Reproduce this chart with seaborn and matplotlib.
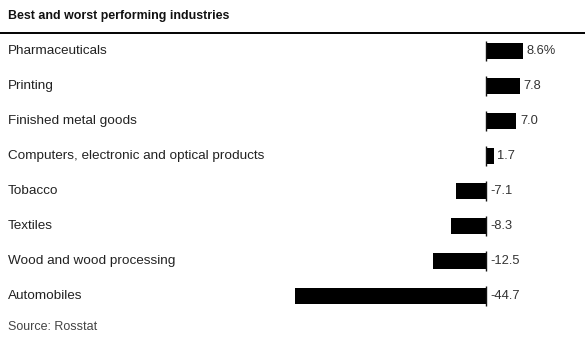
import matplotlib
matplotlib.use("Agg")
import matplotlib.pyplot as plt
import seaborn as sns
import pandas as pd

industries = ["Pharmaceuticals", "Printing", "Finished metal goods",
              "Computers, electronic and optical products", "Tobacco",
              "Textiles", "Wood and wood processing", "Automobiles"]
values = [8.6, 7.8, 7.0, 1.7, -7.1, -8.3, -12.5, -44.7]
value_labels = ["8.6%", "7.8", "7.0", "1.7", "-7.1", "-8.3", "-12.5", "-44.7"]
title = "Best and worst performing industries"
source = "Source: Rosstat"

sns.set_theme(style="white")
plt.rcParams['font.family'] = ['Liberation Sans', 'DejaVu Sans']

W, H = 585, 348
fig = plt.figure(figsize=(W / 100, H / 100), dpi=100)
top_px, bot_px = 33.5, 313.5
ax = fig.add_axes([0, (H - bot_px) / H, 1, (bot_px - top_px) / H])

df = pd.DataFrame({"industry": industries, "value": values})
sns.barplot(data=df, y="industry", x="value", order=industries, orient="h",
            color="black", width=0.46, saturation=1, ax=ax, edgecolor="none")

zero_px = 486.5
ppu = 4.28
ax.set_xlim(-zero_px / ppu, (W - zero_px) / ppu)
ax.set_ylim(len(industries) - 0.5, -0.5)
ax.axis("off")

# zero line segments
for i in range(len(industries)):
    ax.plot([0, 0], [i - 0.29, i + 0.29], color="#111111", lw=1.0, solid_capstyle="butt")

trans = matplotlib.transforms.blended_transform_factory(fig.transFigure, ax.transData)
for i, (name, v, lab) in enumerate(zip(industries, values, value_labels)):
    ax.text(8 / W, i, name, transform=trans, ha="left", va="center",
            fontsize=9.7, color="#222222")
    xpos = max(v, 0)
    ax.annotate(lab, (xpos, i), xytext=(3.6 * 72 / 100, 0), textcoords="offset points",
                ha="left", va="center", fontsize=9.3, color="#333333")

fig.text(8 / W, 1 - 16 / H, title, ha="left", va="center", fontsize=8.9,
         fontweight="bold", color="#111111")
fig.add_artist(matplotlib.lines.Line2D([0, 1], [1 - 32.5 / H, 1 - 32.5 / H],
                                       transform=fig.transFigure, color="black", lw=1.4))
fig.text(8 / W, 1 - 327 / H, source, ha="left", va="center", fontsize=9.0,
         color="#444444")

fig.savefig("out.png", dpi=100)
